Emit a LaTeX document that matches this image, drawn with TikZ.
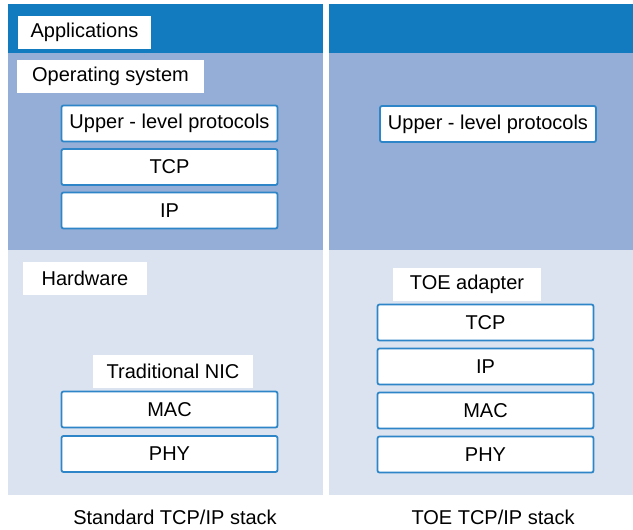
\documentclass[tikz,border=0pt]{standalone}
\usepackage{fontspec}
\setmainfont{Liberation Sans}
\definecolor{bandblue}{RGB}{18,122,190}
\definecolor{osblue}{RGB}{148,174,215}
\definecolor{hwblue}{RGB}{220,227,240}
\definecolor{edgeblue}{RGB}{46,134,200}
\begin{document}
\begin{tikzpicture}[x=0.5pt,y=-0.5pt,
  every node/.style={font=\fontsize{10}{12}\selectfont, inner sep=0pt},
  tag/.style={fill=white, minimum height=16.5pt},
  layer/.style={fill=white, draw=edgeblue, line width=0.9pt, rounded corners=1pt,
                minimum width=108pt, minimum height=18pt},
  caption/.style={}]
\useasboundingbox (0,0) rectangle (633,530);
\fill[white] (0,0) rectangle (633,530);

% panel backgrounds: application band, OS region, hardware region
\fill[bandblue] (8,4) rectangle (323,53);
\fill[osblue]   (8,53) rectangle (323,250);
\fill[hwblue]   (8,250) rectangle (323,495);
\fill[bandblue] (329,4) rectangle (633,53);
\fill[osblue]   (329,53) rectangle (633,250);
\fill[hwblue]   (329,250) rectangle (633,495);

% standard stack
\node[tag, minimum width=66.5pt] (apps) at (84.5,32.5) {Applications};
\node[tag, minimum width=93.5pt] (os) at (110.5,76.5) {Operating system};
\node[layer] (ulpL) at (169.5,123.5) {Upper - level protocols};
\node[layer] (tcpL) at (169.5,167) {TCP};
\node[layer] (ipL)  at (169.5,210.5) {IP};
\node[tag, minimum width=62pt] (hw) at (85,278) {Hardware};
\node[tag, minimum width=80pt] (nic) at (173,371.5) {Traditional NIC};
\node[layer] (macL) at (169.5,409.5) {MAC};
\node[layer] (phyL) at (169.5,454) {PHY};
\node[caption] (capL) at (175,517) {Standard TCP/IP stack};

% TOE stack
\node[layer] (ulpR) at (488,124) {Upper - level protocols};
\node[tag, minimum width=74pt] (toe) at (467,284.5) {TOE adapter};
\node[layer] (tcpR) at (485.5,322.5) {TCP};
\node[layer] (ipR)  at (485.5,366.5) {IP};
\node[layer] (macR) at (485.5,410.5) {MAC};
\node[layer] (phyR) at (485.5,454.5) {PHY};
\node[caption] (capR) at (493,517) {TOE TCP/IP stack};
\end{tikzpicture}
\end{document}
